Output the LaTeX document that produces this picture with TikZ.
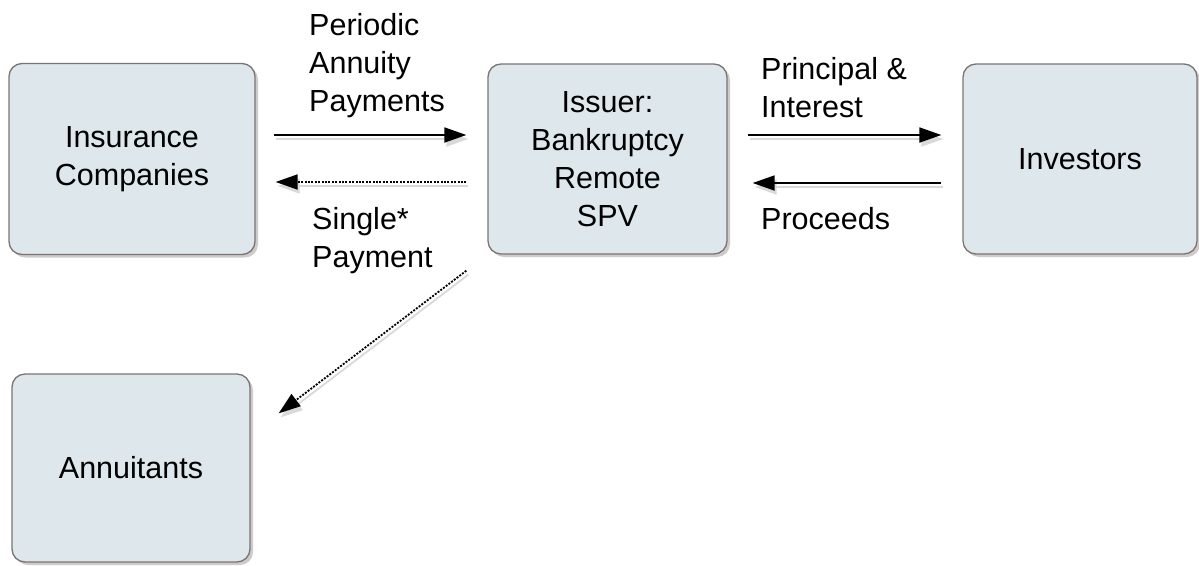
\documentclass[tikz,border=0pt]{standalone}
\usepackage{fontspec}
\setmainfont{Liberation Sans}
\usetikzlibrary{arrows.meta,calc,shadows}
\definecolor{boxfill}{HTML}{DDE7EC}
\definecolor{boxdraw}{HTML}{7A7472}
\definecolor{shadowc}{HTML}{CFCBCA}
\tikzset{
  box/.style={draw=boxdraw, line width=1.3pt, fill=boxfill, rounded corners=13pt,
    align=center, inner sep=0pt,
    drop shadow={shadow xshift=3pt, shadow yshift=-3pt, fill=shadowc, opacity=1}},
  flow/.style={line width=1.8pt, -{Triangle[length=22pt,width=15pt]},
    preaction={draw=black!15, line width=1.8pt, transform canvas={shift={(2pt,-4pt)}}}},
  dots/.style={dash pattern=on 2pt off 1.4pt},
  lbl/.style={align=left, inner sep=0pt, anchor=base west},
}
\begin{document}
\begin{tikzpicture}[x=1pt,y=-1pt,font=\fontsize{30.5}{38}\selectfont]
\useasboundingbox (0,0) rectangle (1199,565);
\node[box, minimum width=246pt, minimum height=191pt] (ins) at (132,159) {Insurance\\Companies};
\node[box, minimum width=239pt, minimum height=190pt] (spv) at (607.5,159) {Issuer:\\Bankruptcy\\Remote\\SPV};
\node[box, minimum width=234pt, minimum height=190pt] (inv) at (1080,159) {Investors};
\node[box, minimum width=238pt, minimum height=188pt] (ann) at (131,468) {Annuitants};

\draw[flow] ($(ins.east)+(18,-24)$) -- ($(spv.west)+(-21,-24)$);
\draw[flow, dots] ($(spv.west)+(-21,23)$) -- ($(ins.east)+(20,23)$);
\draw[flow] ($(spv.east)+(20,-24)$) -- ($(inv.west)+(-21,-24)$);
\draw[flow] ($(inv.west)+(-21,24)$) -- ($(spv.east)+(25,24)$);
\draw[flow, dots] ($(spv.south west)+(-21,16)$) -- ($(ann.north east)+(28,40)$);

\node[lbl] (l1) at (309,111) {Periodic\\Annuity\\Payments};
\node[lbl] (l2) at (312,267) {Single*\\Payment};
\node[lbl] (l3) at (761,117) {Principal \&\\Interest};
\node[lbl] (l4) at (761,229) {Proceeds};
\end{tikzpicture}
\end{document}
